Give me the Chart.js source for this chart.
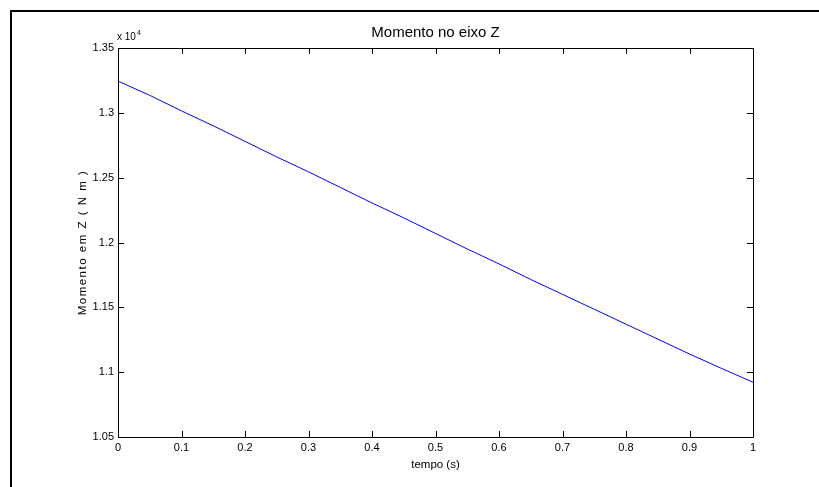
<!DOCTYPE html>
<html>
<head>
<meta charset="utf-8">
<script src="https://cdn.jsdelivr.net/npm/chart.js@4/dist/chart.umd.min.js"></script>
<style>
  html, body { margin: 0; padding: 0; background: #fff; }
  #wrap { position: relative; width: 819px; height: 487px; overflow: hidden; }
  #frame { position: absolute; left: 10px; top: 10px; width: 820px; height: 490px;
           border-left: 2px solid #000; border-top: 2px solid #000; pointer-events: none; }
  canvas { position: absolute; left: 0; top: 0; }
</style>
</head>
<body>
<div id="wrap">
  <canvas id="c" width="819" height="487"></canvas>
  <div id="frame"></div>
</div>
<script>
// ---- data ----
const chartTitle = "Momento no eixo Z";
const xTitle = "tempo (s)";
const yTitle = "Momento em Z ( N m )";
const exponentLabel = "x 10";
const exponentPower = "4";
const times = [0, 0.05, 0.1, 0.15, 0.2, 0.25, 0.3, 0.35, 0.4, 0.45, 0.5,
               0.55, 0.6, 0.65, 0.7, 0.75, 0.8, 0.85, 0.9, 0.95, 1.0];
const momentZ = [13245, 13135, 13015, 12900, 12780, 12660, 12545, 12425, 12305, 12190, 12070,
                 11950, 11835, 11715, 11600, 11485, 11370, 11255, 11140, 11030, 10922];
const xTicks = [0, 0.1, 0.2, 0.3, 0.4, 0.5, 0.6, 0.7, 0.8, 0.9, 1];
const yTicks = [10500, 11000, 11500, 12000, 12500, 13000, 13500];

const points = times.map((t, i) => ({ x: t, y: momentZ[i] }));

const FONT = "'Liberation Sans', Arial, sans-serif";

const boxPlugin = {
  id: 'matlabBox',
  afterDraw(chart) {
    const ctx = chart.ctx;
    const a = chart.chartArea;
    const xs = chart.scales.x, ys = chart.scales.y;
    ctx.save();
    ctx.strokeStyle = '#000';
    ctx.lineWidth = 1;
    ctx.beginPath();
    ctx.rect(Math.round(a.left) + 0.5, Math.round(a.top) + 0.5,
             Math.round(a.right - a.left), Math.round(a.bottom - a.top));
    ctx.stroke();
    const L = 6;
    ctx.beginPath();
    xTicks.forEach(v => {
      const px = Math.round(xs.getPixelForValue(v)) + 0.5;
      ctx.moveTo(px, a.bottom); ctx.lineTo(px, a.bottom - L);
      ctx.moveTo(px, a.top); ctx.lineTo(px, a.top + L);
    });
    yTicks.forEach(v => {
      const py = Math.round(ys.getPixelForValue(v)) + 0.5;
      ctx.moveTo(a.left, py); ctx.lineTo(a.left + L, py);
      ctx.moveTo(a.right, py); ctx.lineTo(a.right - L, py);
    });
    ctx.stroke();
    ctx.fillStyle = '#000';
    // title, centred over the plot box
    ctx.textAlign = 'center';
    ctx.textBaseline = 'middle';
    ctx.font = '15px ' + FONT;
    ctx.fillText(chartTitle, (a.left + a.right) / 2, a.top - 15);
    // y-axis title with slightly spread letters
    ctx.save();
    ctx.translate(83, (a.top + a.bottom) / 2);
    ctx.rotate(-Math.PI / 2);
    ctx.font = '11.5px ' + FONT;
    if ('letterSpacing' in ctx) ctx.letterSpacing = '1.5px';
    ctx.fillText(yTitle, 0, 0);
    ctx.restore();
    // exponent label
    ctx.textBaseline = 'middle';
    ctx.textAlign = 'left';
    ctx.font = '10px ' + FONT;
    ctx.fillText(exponentLabel, a.left - 1, a.top - 11);
    const w = ctx.measureText(exponentLabel).width;
    ctx.font = '7px ' + FONT;
    ctx.fillText(exponentPower, a.left - 1 + w + 1, a.top - 15);
    ctx.restore();
  }
};

new Chart(document.getElementById('c'), {
  type: 'line',
  data: {
    datasets: [{
      data: points,
      borderColor: '#0000ff',
      borderWidth: 1,
      pointRadius: 0,
      tension: 0,
      fill: false
    }]
  },
  options: {
    responsive: false,
    animation: false,
    devicePixelRatio: 1,
    layout: { padding: { left: 0, right: 66, top: 48, bottom: 0 } },
    plugins: {
      legend: { display: false },
      tooltip: { enabled: false },
      title: { display: false, text: chartTitle }
    },
    scales: {
      x: {
        type: 'linear',
        min: 0, max: 1,
        afterFit(s) { s.height = 50; },
        afterBuildTicks(s) { s.ticks = xTicks.map(v => ({ value: v })); },
        grid: { display: false, drawTicks: false },
        border: { display: false },
        ticks: {
          color: '#000',
          padding: 4,
          maxRotation: 0,
          autoSkip: false,
          font: { family: FONT, size: 11 },
          callback: v => String(+v.toFixed(1))
        },
        title: {
          display: true,
          text: xTitle,
          color: '#000',
          font: { family: FONT, size: 11.5 },
          padding: { top: 0, bottom: 15.4 }
        }
      },
      y: {
        type: 'linear',
        min: 10500, max: 13500,
        afterFit(s) { s.width = 118; },
        afterBuildTicks(s) { s.ticks = yTicks.map(v => ({ value: v })); },
        grid: { display: false, drawTicks: false },
        border: { display: false },
        ticks: {
          color: '#000',
          padding: 4,
          autoSkip: false,
          font: { family: FONT, size: 11 },
          callback: v => String(+(v / 1e4).toFixed(2))
        },
        title: { display: false, text: yTitle }
      }
    }
  },
  plugins: [boxPlugin]
});
</script>
</body>
</html>
